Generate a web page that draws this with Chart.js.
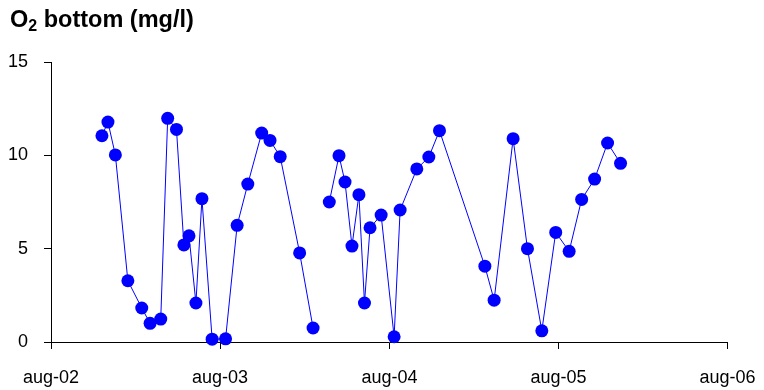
<!DOCTYPE html>
<html>
<head>
<meta charset="utf-8">
<script src="https://cdn.jsdelivr.net/npm/chart.js@4.4.1/dist/chart.umd.min.js"></script>
<style>
  body { margin: 0; background: #fff; }
  .wrap { position: relative; width: 764px; height: 390px; }
  .chartTitle {
    position: absolute; left: 10px; top: 6px;
    font: bold 23.5px "Liberation Sans", Arial, sans-serif; color: #000;
  }
  .chartTitle sub { font-size: 16px; vertical-align: -4px; line-height: 0; }
  canvas { position: absolute; left: 0; top: 0; }
</style>
</head>
<body>
<div class="wrap">
  <canvas id="chart" width="764" height="390"></canvas>
  <div class="chartTitle">O<sub>2</sub> bottom (mg/l)</div>
</div>
<script>
// sampling dates and bottom oxygen values
const sampleDates = [
  '2002-11-19', '2002-12-02', '2002-12-18', '2003-01-14', '2003-02-13', '2003-03-03',
  '2003-03-26', '2003-04-10', '2003-04-29', '2003-05-15', '2003-05-26', '2003-06-10',
  '2003-06-23', '2003-07-15', '2003-08-13', '2003-09-07', '2003-09-30', '2003-10-30',
  '2003-11-17', '2003-12-09', '2004-01-20', '2004-02-18',
  '2004-03-05', // break in the line
  '2004-03-24', '2004-04-14', '2004-04-27', '2004-05-12', '2004-05-27', '2004-06-08',
  '2004-06-20', '2004-07-14', '2004-08-11', '2004-08-24', '2004-09-29', '2004-10-25',
  '2004-11-17', '2005-02-23', '2005-03-15', '2005-04-25', '2005-05-26', '2005-06-26',
  '2005-07-26', '2005-08-24', '2005-09-20', '2005-10-18', '2005-11-15', '2005-12-13'
];
const o2Bottom = [
  11.05, 11.78, 10.02, 3.28, 1.82, 1.0,
  1.23, 11.98, 11.39, 5.2, 5.69, 2.09,
  7.68, 0.15, 0.17, 6.25, 8.46, 11.19,
  10.8, 9.93, 4.77, 0.75,
  null,
  7.5, 9.98, 8.57, 5.14, 7.89, 2.09,
  6.12, 6.8, 0.28, 7.07, 9.27, 9.91,
  11.32, 4.06, 2.24, 10.89, 5.0, 0.6,
  5.87, 4.86, 7.64, 8.73, 10.66, 9.57
];
const tickDates = ['2002-08-01', '2003-08-01', '2004-08-01', '2005-08-01', '2006-08-01'];
const tickLabels = ['aug-02', 'aug-03', 'aug-04', 'aug-05', 'aug-06'];
const yTicks = [0, 5, 10, 15];

const toMs = (s) => Date.parse(s + 'T00:00:00Z');
const tickMs = tickDates.map(toMs);

const font = { family: '"Liberation Sans", Arial, sans-serif', size: 18 };

new Chart(document.getElementById('chart').getContext('2d'), {
  type: 'line',
  data: {
    datasets: [{
      data: sampleDates.map((d, i) => ({ x: toMs(d), y: o2Bottom[i] })),
      borderColor: '#0000ff',
      backgroundColor: '#0000ff',
      borderWidth: 1,
      pointRadius: 6.5,
      pointBorderWidth: 0,
      pointBackgroundColor: '#0000ff',
      spanGaps: false,
      tension: 0,
      clip: false,
    }],
  },
  options: {
    responsive: false,
    animation: false,
    layout: { padding: { top: 62, right: 36.5, bottom: 0, left: 0 } },
    scales: {
      x: {
        type: 'linear',
        min: tickMs[0],
        max: tickMs[tickMs.length - 1],
        afterBuildTicks: (scale) => { scale.ticks = tickMs.map((v) => ({ value: v })); },
        afterFit: (scale) => {
          scale.height = 48;
          scale.paddingLeft = 0;
          scale.paddingRight = 0;
        },
        ticks: {
          color: '#000',
          font: font,
          padding: 18,
          maxRotation: 0,
          autoSkip: false,
          callback: (v) => tickLabels[tickMs.indexOf(v)],
        },
        grid: { drawOnChartArea: false, drawTicks: true, tickLength: 7, color: '#000' },
        border: { color: '#000', width: 1 },
      },
      y: {
        min: 0,
        max: 15,
        afterBuildTicks: (scale) => { scale.ticks = yTicks.map((v) => ({ value: v })); },
        afterFit: (scale) => { scale.width = 51; },
        ticks: { color: '#000', font: font, padding: 16 },
        grid: { drawOnChartArea: false, drawTicks: true, tickLength: 7, color: '#000' },
        border: { color: '#000', width: 1 },
      },
    },
    plugins: {
      legend: { display: false },
      tooltip: { enabled: false },
    },
  },
});
</script>
</body>
</html>
